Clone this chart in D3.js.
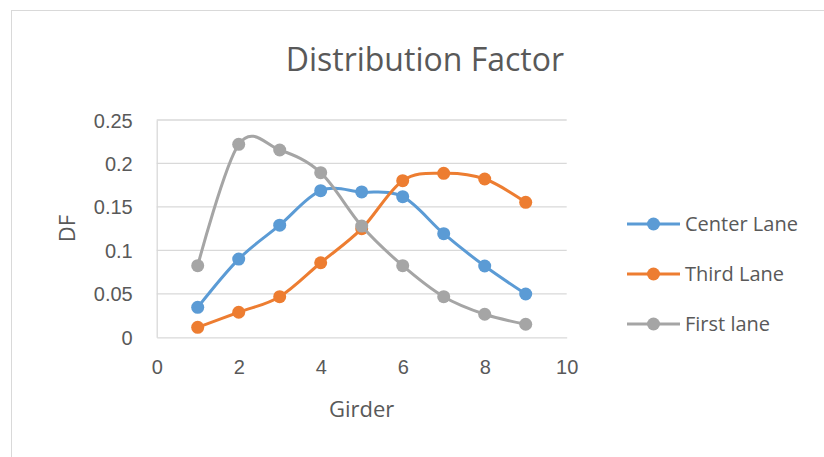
<!DOCTYPE html>
<html>
<head>
<meta charset="utf-8">
<script src="https://cdn.jsdelivr.net/npm/d3@7/dist/d3.min.js"></script>
<style>
  html, body { margin: 0; padding: 0; background: #fff; }
  svg { display: block; font-family: "Open Sans", "Noto Sans", sans-serif; }
</style>
</head>
<body>
<svg id="chart" width="824" height="457"></svg>
<script>
// Girder numbers along the x axis
const girders = [1, 2, 3, 4, 5, 6, 7, 8, 9];

// Distribution factor per girder for each loading case
const centerLane = [0.0345, 0.090, 0.129, 0.1687, 0.1672, 0.1618, 0.1192, 0.082, 0.0498];
const thirdLane  = [0.0115, 0.0288, 0.0467, 0.0858, 0.125, 0.1802, 0.1887, 0.1821, 0.1553];
const firstLane  = [0.0824, 0.222, 0.2155, 0.1894, 0.128, 0.0824, 0.0467, 0.0265, 0.015];

const seriesNames = ["Center Lane", "Third Lane", "First lane"];
const seriesColors = ["#5B9BD5", "#ED7D31", "#A5A5A5"];

const xTicks = [0, 2, 4, 6, 8, 10];
const yTicks = [0, 0.05, 0.1, 0.15, 0.2, 0.25];

const chartTitle = "Distribution Factor";
const xTitle = "Girder";
const yTitle = "DF";

const series = [centerLane, thirdLane, firstLane].map((vals, i) => ({
  name: seriesNames[i],
  color: seriesColors[i],
  points: girders.map((g, j) => ({ x: g, y: vals[j] }))
}));

const svg = d3.select("#chart");
const textColor = "#595959";
const gridColor = "#D9D9D9";

// Chart frame
svg.append("rect")
  .attr("x", 11.5).attr("y", 10.5)
  .attr("width", 840).attr("height", 470)
  .attr("fill", "#fff")
  .attr("stroke", gridColor).attr("stroke-width", 1);

const plot = { left: 156.7, right: 566.7, top: 120, bottom: 337.3 };

const x = d3.scaleLinear().domain([0, 10]).range([plot.left, plot.right]);
const y = d3.scaleLinear().domain([0, 0.25]).range([plot.bottom, plot.top]);

// Horizontal gridlines
svg.append("g")
  .selectAll("line")
  .data(yTicks.filter(t => t > 0))
  .join("line")
  .attr("x1", plot.left).attr("x2", plot.right)
  .attr("y1", d => y(d)).attr("y2", d => y(d))
  .attr("stroke", gridColor).attr("stroke-width", 1.3);

// Y axis
const yAxis = svg.append("g")
  .attr("transform", `translate(${plot.left},0)`)
  .call(d3.axisLeft(y).tickValues(yTicks).tickFormat(d => String(+d.toFixed(2))).tickSize(0).tickPadding(24));
yAxis.select(".domain").attr("stroke", gridColor).attr("stroke-width", 1.3);
yAxis.selectAll("text")
  .attr("fill", textColor)
  .style("font-size", "20px")
  .attr("dy", "0.35em");

// X axis
const xAxis = svg.append("g")
  .attr("transform", `translate(0,${plot.bottom})`)
  .call(d3.axisBottom(x).tickValues(xTicks).tickFormat(d3.format("d")).tickSize(0).tickPadding(23));
xAxis.select(".domain").attr("stroke", gridColor).attr("stroke-width", 1.3);
xAxis.selectAll("text")
  .attr("fill", textColor)
  .style("font-size", "20px");

// Smoothed series lines
const line = d3.line()
  .x(d => x(d.x))
  .y(d => y(d.y))
  .curve(d3.curveCardinal.tension(0));

const seriesG = svg.append("g")
  .selectAll("g")
  .data(series)
  .join("g");

seriesG.append("path")
  .attr("d", d => line(d.points))
  .attr("fill", "none")
  .attr("stroke", d => d.color)
  .attr("stroke-width", 3)
  .attr("stroke-linejoin", "round")
  .attr("stroke-linecap", "round");

seriesG.selectAll("circle")
  .data(d => d.points.map(p => ({ ...p, color: d.color })))
  .join("circle")
  .attr("cx", d => x(d.x))
  .attr("cy", d => y(d.y))
  .attr("r", 6.5)
  .attr("fill", d => d.color);

// Title
svg.append("text")
  .attr("x", (286.7 + 563) / 2)
  .attr("y", 70.5)
  .attr("text-anchor", "middle")
  .attr("fill", textColor)
  .style("font-size", "32px")
  .text(chartTitle);

// Axis titles
svg.append("text")
  .attr("x", (plot.left + plot.right) / 2)
  .attr("y", 416.7)
  .attr("text-anchor", "middle")
  .attr("fill", textColor)
  .style("font-size", "22px")
  .text(xTitle);

svg.append("text")
  .attr("transform", `translate(75,${(plot.top + plot.bottom) / 2}) rotate(-90)`)
  .attr("text-anchor", "middle")
  .attr("fill", textColor)
  .style("font-size", "22px")
  .text(yTitle);

// Legend
const legend = svg.append("g")
  .selectAll("g")
  .data(series)
  .join("g")
  .attr("transform", (d, i) => `translate(0,${224 + i * 50})`);

legend.append("line")
  .attr("x1", 627).attr("x2", 680)
  .attr("y1", 0).attr("y2", 0)
  .attr("stroke", d => d.color)
  .attr("stroke-width", 3);

legend.append("circle")
  .attr("cx", 653.5).attr("cy", 0)
  .attr("r", 6.5)
  .attr("fill", d => d.color);

legend.append("text")
  .attr("x", 685)
  .attr("y", 0)
  .attr("dy", "0.35em")
  .attr("fill", textColor)
  .style("font-size", "20px")
  .text(d => d.name);
</script>
</body>
</html>
